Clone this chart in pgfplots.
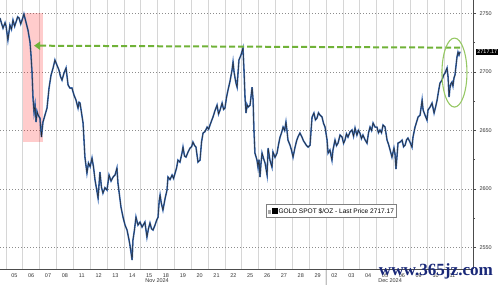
\documentclass[border=0pt]{standalone}
\usepackage{fontspec}
\setmainfont{Liberation Sans}
\newfontfamily\wmfont{Liberation Serif}
\usepackage{graphicx}
\usepackage{pgfplots}
\pgfplotsset{compat=1.18}
\usepackage{pgfplotstable}
\usetikzlibrary{arrows.meta}
\definecolor{gline}{RGB}{60,110,185}
\definecolor{garrow}{RGB}{112,178,56}
\definecolor{gell}{RGB}{150,200,100}
\definecolor{wm}{RGB}{25,40,120}
\pgfplotstableread{
x y
-0.35 2746.0
-0.25 2741.0
-0.17 2737.4
-0.05 2742.0
0.01 2739.1
0.12 2727.2
0.24 2740.0
0.33 2736.5
0.42 2744.3
0.52 2739.0
0.60 2742.6
0.70 2747.0
0.78 2746.0
0.88 2741.0
0.96 2744.3
1.07 2749.4
1.19 2742.6
1.31 2735.7
1.43 2725.5
1.49 2714.4
1.55 2699.8
1.61 2677.6
1.67 2665.6
1.73 2671.6
1.79 2657.1
1.85 2666.0
1.91 2663.1
2.02 2660.5
2.11 2644.3
2.20 2657.1
2.32 2663.1
2.44 2669.1
2.56 2686.2
2.68 2697.3
2.80 2703.3
2.91 2710.1
3.03 2705.8
3.15 2701.5
3.24 2696.0
3.33 2693.0
3.45 2699.0
3.57 2703.3
3.69 2688.7
3.80 2686.2
3.92 2686.2
4.04 2680.2
4.16 2675.9
4.28 2669.1
4.34 2674.0
4.40 2673.3
4.58 2656.2
4.69 2627.2
4.81 2613.5
4.90 2622.1
5.00 2619.0
5.11 2626.3
5.20 2618.6
5.29 2607.5
5.38 2600.0
5.47 2592.1
5.58 2614.4
5.67 2601.5
5.76 2596.4
5.88 2601.0
6.00 2599.0
6.12 2611.8
6.24 2606.7
6.36 2610.1
6.48 2612.0
6.59 2617.8
6.65 2605.0
6.83 2584.4
6.95 2575.9
7.07 2569.1
7.19 2564.8
7.31 2556.2
7.39 2549.4
7.49 2539.2
7.54 2556.2
7.63 2565.0
7.72 2575.9
7.84 2569.1
7.96 2571.6
8.08 2567.4
8.25 2571.6
8.37 2558.8
8.46 2566.0
8.55 2570.8
8.64 2566.0
8.73 2564.8
8.85 2569.1
8.94 2573.0
9.03 2575.9
9.10 2590.0
9.15 2594.7
9.22 2588.0
9.32 2581.9
9.45 2592.0
9.56 2599.0
9.62 2610.1
9.74 2608.0
9.86 2611.8
9.95 2609.0
10.04 2613.5
10.13 2618.0
10.21 2624.6
10.33 2622.9
10.45 2630.6
10.51 2635.7
10.60 2628.0
10.69 2627.2
10.81 2631.5
10.93 2634.9
11.02 2636.0
11.10 2640.0
11.20 2637.0
11.28 2635.7
11.35 2628.0
11.40 2622.9
11.52 2624.6
11.61 2640.0
11.70 2647.7
11.82 2649.0
11.94 2652.8
12.03 2651.0
12.11 2654.5
12.20 2658.0
12.29 2661.4
12.41 2667.0
12.53 2671.6
12.62 2664.0
12.71 2667.4
12.83 2673.3
12.92 2668.0
13.00 2669.1
13.09 2678.0
13.18 2684.4
13.30 2692.0
13.42 2701.5
13.48 2708.4
13.54 2700.0
13.60 2694.7
13.66 2690.0
13.72 2687.0
13.78 2700.0
13.83 2710.1
13.95 2714.4
14.07 2720.3
14.13 2701.5
14.19 2678.5
14.25 2664.8
14.31 2672.0
14.37 2669.9
14.49 2671.6
14.61 2687.0
14.67 2675.9
14.72 2650.3
14.78 2630.6
14.90 2624.6
14.96 2618.6
15.02 2625.0
15.08 2610.1
15.14 2622.0
15.20 2630.6
15.29 2626.0
15.38 2622.1
15.50 2611.8
15.56 2634.9
15.67 2624.6
15.79 2618.6
15.85 2631.5
15.97 2627.0
16.09 2630.6
16.18 2638.0
16.27 2644.3
16.36 2648.0
16.45 2652.8
16.54 2650.0
16.62 2657.1
16.68 2650.0
16.74 2641.7
16.86 2637.4
16.95 2633.0
17.04 2627.2
17.16 2635.7
17.25 2641.0
17.33 2644.3
17.45 2647.7
17.57 2644.3
17.66 2641.0
17.75 2639.1
17.84 2637.0
17.93 2635.7
18.05 2637.4
18.11 2650.0
18.17 2661.4
18.28 2664.8
18.37 2659.0
18.46 2660.5
18.55 2665.0
18.64 2663.1
18.76 2661.4
18.85 2656.0
18.94 2652.8
19.06 2641.7
19.12 2630.6
19.23 2633.2
19.35 2624.6
19.41 2633.2
19.53 2641.7
19.62 2637.0
19.71 2639.1
19.83 2646.0
19.95 2644.3
20.04 2639.0
20.12 2641.7
20.21 2647.0
20.30 2644.3
20.42 2648.6
20.54 2650.3
20.63 2645.0
20.72 2652.0
20.83 2646.0
20.92 2650.0
21.01 2647.7
21.10 2643.0
21.19 2646.0
21.31 2642.0
21.43 2639.1
21.52 2648.0
21.61 2652.8
21.70 2650.0
21.79 2656.2
21.91 2652.8
22.02 2652.8
22.11 2648.0
22.20 2650.3
22.29 2648.0
22.38 2654.5
22.50 2652.8
22.62 2641.7
22.71 2638.0
22.80 2633.2
22.91 2627.2
23.03 2634.9
23.09 2630.0
23.15 2617.0
23.21 2628.0
23.27 2639.1
23.39 2640.0
23.51 2641.7
23.60 2636.0
23.69 2637.4
23.78 2642.0
23.86 2643.4
23.98 2640.0
24.10 2635.7
24.16 2644.3
24.28 2652.8
24.37 2657.0
24.46 2661.4
24.58 2663.1
24.70 2675.9
24.76 2667.4
24.87 2663.1
24.99 2658.8
25.05 2667.4
25.17 2669.9
25.29 2673.3
25.41 2664.8
25.50 2670.0
25.59 2675.9
25.68 2684.0
25.76 2690.4
25.88 2693.0
25.97 2697.0
26.06 2699.0
26.18 2703.3
26.24 2695.6
26.30 2678.5
26.35 2686.2
26.41 2690.0
26.47 2691.3
26.53 2688.0
26.59 2694.7
26.65 2697.3
26.71 2705.0
26.77 2712.7
26.83 2716.9
26.89 2714.5
26.95 2717.2
}\gold
\newcommand{\tf}{\fontsize{5.5}{6}\selectfont}
\newcommand{\lf}{\fontsize{6.6}{7}\selectfont}
\begin{document}
\begin{tikzpicture}
\begin{axis}[
  at={(0,0)}, anchor=south west,
  scale only axis, width=473bp, height=269bp,
  xmin=-0.35, xmax=27.72, ymin=2531.5, ymax=2761.4,
  axis x line*=bottom, axis y line*=right,
  axis line style={draw=black!70, line width=0.6bp},
  clip=false,
  xtick={0.5,1.5,...,26.5},
  xticklabels={05,06,07,08,11,12,13,14,15,18,19,20,21,22,25,26,27,28,29,02,03,04,05,06,09,10,11},
  minor xtick={0,1,...,27},
  xminorgrids,
  minor grid style={draw=black!16, line width=0.7bp},
  xtick style={draw=none},
  ytick={2550,2600,2650,2700,2750},
  minor ytick={2575,2625,2675,2725},
  ymajorgrids,
  major grid style={draw=black!45, line width=0.6bp, dash pattern=on 0.8bp off 2.2bp},
  tick align=outside, major tick length=3bp, minor tick length=2bp,
  ytick style={draw=black!70, line width=0.5bp},
  ticklabel style={font=\tf, text=black!80},
  xticklabel style={yshift=1.5bp},
  /pgf/number format/assume math mode=true,
  /pgf/number format/1000 sep={},
]
\fill[red, fill opacity=0.2] (axis cs:1,2750) rectangle (axis cs:2.18,2640.3);
\addplot[gline, line width=1.6bp] table {\gold};
\addplot[black!85, line width=0.5bp] table {\gold};
\draw[garrow, line width=2bp, dash pattern=on 6bp off 3bp, -{Triangle[length=6bp,width=8bp]}]
  (axis cs:26.95,2720.7) -- (axis cs:1.67,2722.4);
\draw[gell, line width=1.1bp] (axis cs:26.62,2699.4) ellipse [x radius=12.5bp, y radius=34.5bp];
\node[draw=black!50, fill=white, line width=0.5bp, inner sep=1.8bp, font=\lf, minimum height=13bp, anchor=center]
  at (axis cs:19.29,2581.0) {{\color{black!35}\rule{3.5bp}{3.5bp}}\hspace{0.6bp}\rule{5.5bp}{5.5bp}\hspace{1bp}GOLD SPOT \$/OZ - Last Price 2717.17};
\node[fill=black, text=white, font=\tf, inner sep=1.2bp, anchor=west] at (axis cs:27.72,2717.17) [xshift=3bp] {2717.17};
\node[font=\tf, text=black!80, anchor=north, inner sep=0.5bp] at (axis cs:8.97,2531.5) [yshift=-9bp] {Nov 2024};
\node[font=\tf, text=black!80, anchor=north, inner sep=0.5bp] at (axis cs:22.8,2531.5) [yshift=-9bp] {Dec 2024};
\draw[black!70, line width=0.5bp] (axis cs:19,2531.5) -- ++(0,-16bp);
\node[text=wm, anchor=center, inner sep=0pt] at (axis cs:25.52,2531.5) [yshift=-2.5bp] {\resizebox{114bp}{!}{\wmfont\bfseries www.365jz.com}};
\end{axis}
\pgfresetboundingbox
\useasboundingbox (0,-16bp) rectangle (500bp,269bp);
\end{tikzpicture}
\end{document}
